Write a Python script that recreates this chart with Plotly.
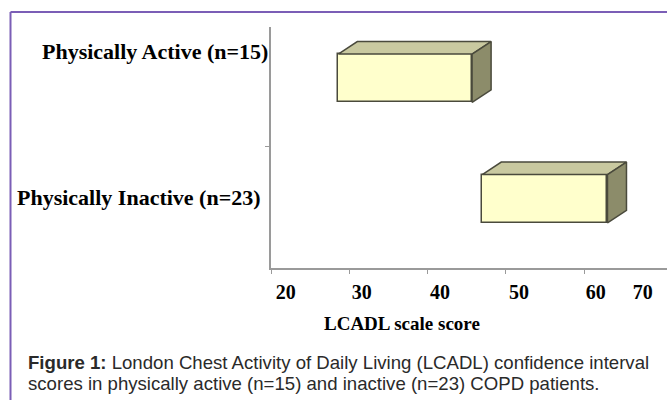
import plotly.graph_objects as go

# ---- data ----
categories = ["Physically Inactive (n=23)", "Physically Active (n=15)"]
ci_low = [47.0, 28.6]
ci_high = [63.0, 45.7]
x_tick_values = [20, 30, 40, 50, 60]
x_tick_labels = ["20", "30", "40", "50", "60", "70"]
x_tick_label_pos = [21.9, 31.6, 41.6, 51.7, 61.5, 67.5]
x_title = "LCADL scale score"
caption_lines = [
    "<b>Figure 1:</b> London Chest Activity of Daily Living (LCADL) confidence interval",
    "scores in physically active (n=15) and inactive (n=23) COPD patients.",
]

# ---- geometry / style ----
W, H = 667, 400
ML, MR, MT, MB = 271, 0, 27, 132
PX_PER_X = 7.825
plot_w = W - ML - MR
plot_h = H - MT - MB
x_range = [20, 20 + plot_w / PX_PER_X]
y_range = [-0.575, 1.425]
px_per_y = plot_h / (y_range[1] - y_range[0])
y_pos = [0, 1]
half_h = 0.2
dx = 19 / PX_PER_X
dy = 12.5 / px_per_y

front_col = "#FFFFCC"
top_col = "#C9C9A0"
side_col = "#8C8C6A"
edge_col = "#4A4A3C"
serif = "Liberation Serif, Times New Roman, serif"
sans = "Liberation Sans, Arial, sans-serif"


def px_x(px):
    return (px - ML) / plot_w


def px_y(py):
    return (H - MB - py) / plot_h


fig = go.Figure()

for i, cat in enumerate(categories):
    lo, hi, yc = ci_low[i], ci_high[i], y_pos[i]
    yt, yb = yc + half_h, yc - half_h
    # top face
    fig.add_trace(go.Scatter(
        x=[lo, hi, hi + dx, lo + dx, lo], y=[yt, yt, yt + dy, yt + dy, yt],
        fill="toself", fillcolor=top_col, mode="lines",
        line=dict(color=edge_col, width=1.5), hoverinfo="skip", showlegend=False))
    # side face
    fig.add_trace(go.Scatter(
        x=[hi, hi + dx, hi + dx, hi, hi], y=[yt, yt + dy, yb + dy, yb, yt],
        fill="toself", fillcolor=side_col, mode="lines",
        line=dict(color=edge_col, width=1.5), hoverinfo="skip", showlegend=False))

# front faces
fig.add_trace(go.Bar(
    orientation="h", y=y_pos, base=ci_low,
    x=[h - l for h, l in zip(ci_high, ci_low)],
    width=2 * half_h, marker=dict(color=front_col, line=dict(color=edge_col, width=1.5)),
    hoverinfo="skip", showlegend=False))

# category labels
label_right_px = [263, 270]
label_y = [0.01, 1.22]
for i, cat in enumerate(categories):
    fig.add_annotation(
        text=f"<b>{cat}</b>", xref="paper", yref="y",
        x=px_x(label_right_px[i]), y=label_y[i],
        xanchor="right", yanchor="middle", showarrow=False,
        font=dict(family=serif, size=22, color="#000"))

# axis title
fig.add_annotation(
    text=f"<b>{x_title}</b>", xref="paper", yref="paper",
    x=px_x(402), y=px_y(323),
    xanchor="center", yanchor="middle", showarrow=False,
    font=dict(family=serif, size=19, color="#000"))

# caption
caption_y = [362, 383]
for line, cy in zip(caption_lines, caption_y):
    fig.add_annotation(
        text=line, xref="paper", yref="paper",
        x=px_x(26), y=px_y(cy),
        xanchor="left", yanchor="middle", align="left", showarrow=False,
        font=dict(family=sans, size=18.6, color="#2a2a2a"))

# purple frame
fx = px_x(10.5)
fy = px_y(12)
fb = px_y(410)
fig.add_shape(type="line", xref="paper", yref="paper", x0=fx, x1=1.2, y0=fy, y1=fy,
              line=dict(color="#7B5EB6", width=2))
fig.add_shape(type="line", xref="paper", yref="paper", x0=fx, x1=fx, y0=fy, y1=fb,
              line=dict(color="#7B5EB6", width=2))

fig.update_layout(
    width=W, height=H, autosize=False,
    margin=dict(l=ML, r=MR, t=MT, b=MB),
    paper_bgcolor="white", plot_bgcolor="white",
    bargap=0,
    xaxis=dict(range=x_range, showgrid=False, zeroline=False, automargin=False,
               showline=True, linecolor="#9A9A9A", linewidth=1.5,
               tickvals=x_tick_label_pos, ticktext=[f"<b>{t}</b>" for t in x_tick_labels],
               ticks="", ticklabelstandoff=5,
               tickfont=dict(family=serif, size=20, color="#000"),
               minor=dict(tickvals=x_tick_values, ticks="outside", ticklen=4,
                          tickcolor="#9A9A9A", tickwidth=1)),
    yaxis=dict(range=y_range, showgrid=False, zeroline=False, automargin=False,
               showline=True, linecolor="#9A9A9A", linewidth=1.5,
               showticklabels=False, tickvals=[0.43], ticks="outside",
               ticklen=4, tickcolor="#9A9A9A"),
)

fig.write_html(
    "out.html",
    config={"displayModeBar": False},
    post_script="document.body.style.margin='0';document.body.style.overflow='hidden';",
)
